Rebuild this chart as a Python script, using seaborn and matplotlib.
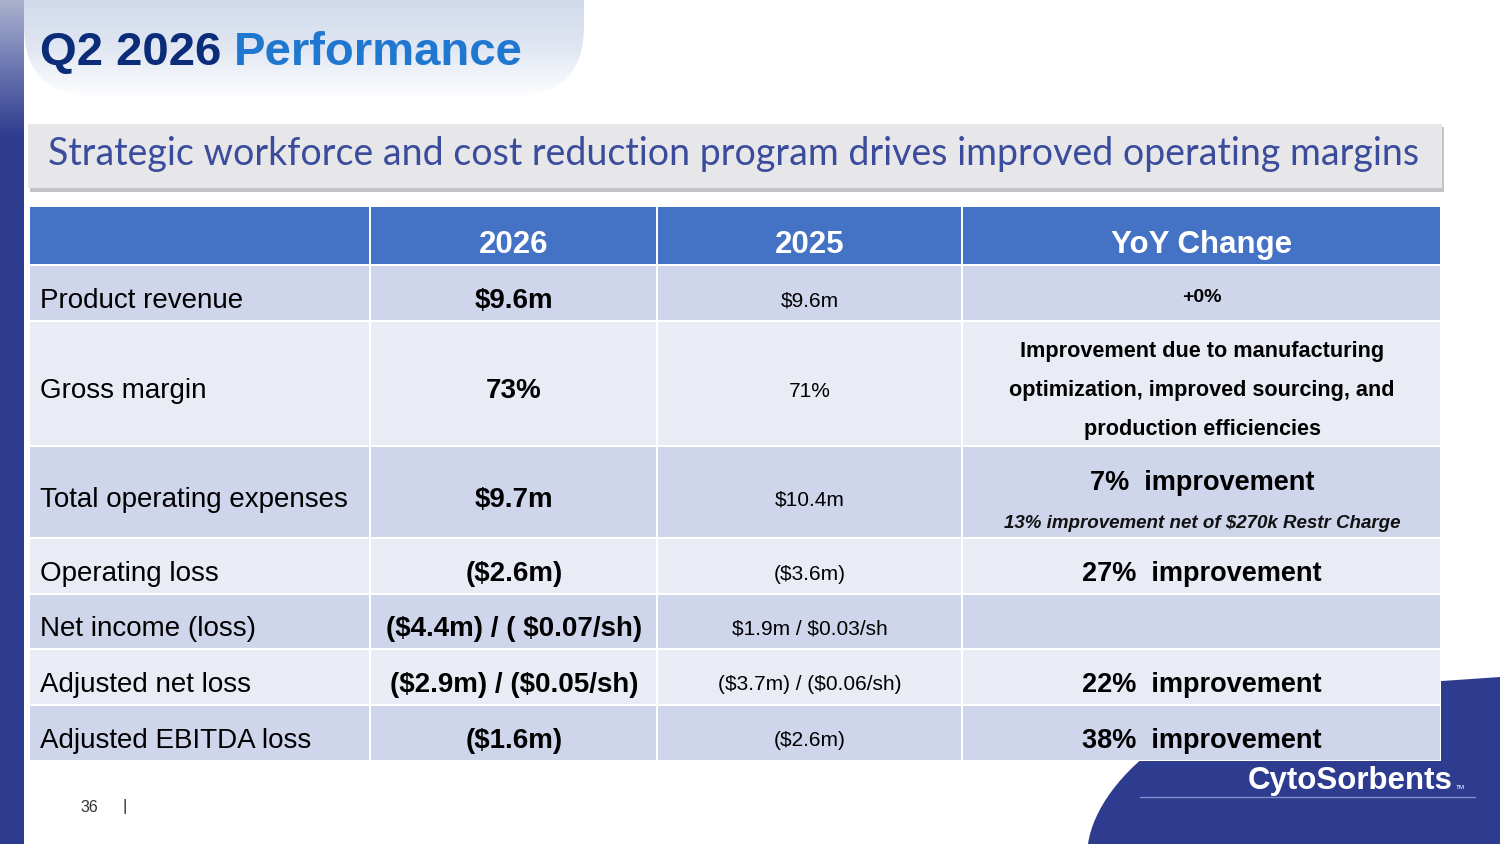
import numpy as np
import matplotlib.pyplot as plt
import seaborn as sns
from matplotlib.patches import Rectangle, FancyBboxPatch, PathPatch
from matplotlib.path import Path
from matplotlib.colors import LinearSegmentedColormap

# slide content
title_dark = "Q2 2026"
title_light = "Performance"
subtitle = "Strategic workforce and cost reduction program drives improved operating margins"
columns = ["", "2026", "2025", "YoY Change"]
metrics = ["Product revenue", "Gross margin", "Total operating expenses", "Operating loss",
           "Net income (loss)", "Adjusted net loss", "Adjusted EBITDA loss"]
values_2026 = ["$9.6m", "73%", "$9.7m", "($2.6m)", "($4.4m) / ( $0.07/sh)",
               "($2.9m) / ($0.05/sh)", "($1.6m)"]
values_2025 = ["$9.6m", "71%", "$10.4m", "($3.6m)", "$1.9m / $0.03/sh",
               "($3.7m) / ($0.06/sh)", "($2.6m)"]
yoy_change = ["+0%",
              "Improvement due to manufacturing\noptimization, improved sourcing, and\nproduction efficiencies",
              "7%  improvement", "27%  improvement", "", "22%  improvement", "38%  improvement"]
yoy_notes = ["", "", "13% improvement net of $270k Restr Charge", "", "", "", ""]
page_number = "36"
logo = "CytoSorbents"

sns.set_theme(style="white")
plt.rcParams['font.family'] = ['Liberation Sans', 'DejaVu Sans']
plt.rcParams['text.parse_math'] = False

navy = "#2E3C8F"
header_blue = "#4472C4"
row_colors = ["#CFD5EA", "#E9EBF5"]

fig = plt.figure(figsize=(15, 8.44), dpi=100)
ax = fig.add_axes([0, 0, 1, 1])
ax.set_xlim(0, 1500)
ax.set_ylim(844, 0)
ax.axis('off')

# left bar with faded top
bar_cmap = LinearSegmentedColormap.from_list(
    "bar", [(0, "#A9B0CC"), (0.06, "#7884B8"), (0.16, navy), (1, navy)])
ax.imshow(np.linspace(0, 1, 400).reshape(-1, 1), cmap=bar_cmap, aspect='auto',
          extent=[0, 24, 844, 0], zorder=1)

# title backdrop
title_cmap = LinearSegmentedColormap.from_list("ttl", ["#D0DAEB", "#E2E8F3", "#FFFFFF"])
tbox = FancyBboxPatch((24, -80), 560, 176, boxstyle="round,pad=0,rounding_size=70",
                      facecolor='none', edgecolor='none')
ax.add_patch(tbox)
img = ax.imshow(np.linspace(0, 1, 100).reshape(-1, 1), cmap=title_cmap, aspect='auto',
                extent=[24, 584, 100, 0], zorder=1)
img.set_clip_path(tbox)
ax.text(40, 53, title_dark, fontsize=34, fontweight='bold', color="#0B2C78", va='center', zorder=3)
ax.text(234, 53, title_light, fontsize=34, fontweight='bold', color="#1F77CF", va='center', zorder=3)

# subtitle banner
ax.add_patch(Rectangle((30, 127), 1414, 65, facecolor="#9C9CA4", edgecolor='none', alpha=0.6, zorder=2))
ax.add_patch(Rectangle((28, 124), 1414, 64, facecolor="#E7E7EA", edgecolor='none', zorder=3))
ax.text(734, 154, subtitle, fontsize=27, color="#3B4C9C", ha='center', va='center',
        family=['Lato', 'DejaVu Sans'], zorder=4)

# logo shape in the corner
verts = [(1500, 677), (1340, 688), (1200, 690), (1098, 775), (1088, 844), (1500, 844), (1500, 677)]
codes = [Path.MOVETO, Path.LINETO, Path.CURVE4, Path.CURVE4, Path.CURVE4, Path.LINETO, Path.CLOSEPOLY]
ax.add_patch(PathPatch(Path(verts, codes), facecolor=navy, edgecolor='none', zorder=2))
ax.text(1350, 789, logo, fontsize=22.5, fontweight='bold', color='white',
        ha='center', va='baseline', zorder=3)
ax.text(1456, 789, "TM", fontsize=4.5, color='white', va='baseline', zorder=3)
ax.plot([1140, 1475], [797, 797], color="#7F8FCB", lw=1, zorder=3)

# table
col_edges = [29, 370, 657, 962, 1441]
row_edges = [207, 265, 321, 446, 538, 594, 649, 705, 761]
ax.add_patch(Rectangle((29, 207), 1412, 554, facecolor='white', edgecolor='none', zorder=4))

for j in range(4):
    x0, x1 = col_edges[j], col_edges[j + 1]
    ax.add_patch(Rectangle((x0 + 1, 207), x1 - x0 - 2, 57, facecolor=header_blue,
                           edgecolor='none', zorder=5))
    ax.text((x0 + x1) / 2, 245, columns[j], fontsize=22.5, fontweight='bold', color='white',
            ha='center', va='center', zorder=6)

for i, metric in enumerate(metrics):
    y0, y1 = row_edges[i + 1], row_edges[i + 2]
    for j in range(4):
        x0, x1 = col_edges[j], col_edges[j + 1]
        ax.add_patch(Rectangle((x0 + 1, y0 + 1), x1 - x0 - 2, y1 - y0 - 2,
                               facecolor=row_colors[i % 2], edgecolor='none', zorder=5))
    yc = (y0 + y1) / 2 + 8
    ax.text(40, yc, metric, fontsize=20, color='black', va='center', zorder=6)
    ax.text(514, yc, values_2026[i], fontsize=20, fontweight='bold', color='black',
            ha='center', va='center', zorder=6)
    ax.text(810, yc, values_2025[i], fontsize=15, color='black', ha='center', va='center', zorder=6)
    if yoy_notes[i]:
        ax.text(1202, yc - 17, yoy_change[i], fontsize=19.5, fontweight='bold', color='black',
                ha='center', va='center', zorder=6)
        ax.text(1202, yc + 23, yoy_notes[i], fontsize=13.5, fontweight='bold', style='italic',
                color='#111111', ha='center', va='center', zorder=6)
    elif "\n" in yoy_change[i]:
        for k, line in enumerate(yoy_change[i].split("\n")):
            ax.text(1202, yc - 40 + 39 * k, line, fontsize=15.6, fontweight='bold', color='black',
                    ha='center', va='center', zorder=6)
    elif yoy_change[i].startswith("+"):
        ax.text(1202, yc - 4, yoy_change[i], fontsize=14, fontweight='bold', color='black',
                ha='center', va='center', zorder=6)
    else:
        ax.text(1202, yc, yoy_change[i], fontsize=19.5, fontweight='bold', color='black',
                ha='center', va='center', zorder=6)

# footer
ax.text(80, 808, page_number, fontsize=11.5, color='#333333', va='center', zorder=3)
ax.text(123, 806, "|", fontsize=12, color='#333333', va='center', zorder=3)

fig.savefig("out.png", dpi=100)
